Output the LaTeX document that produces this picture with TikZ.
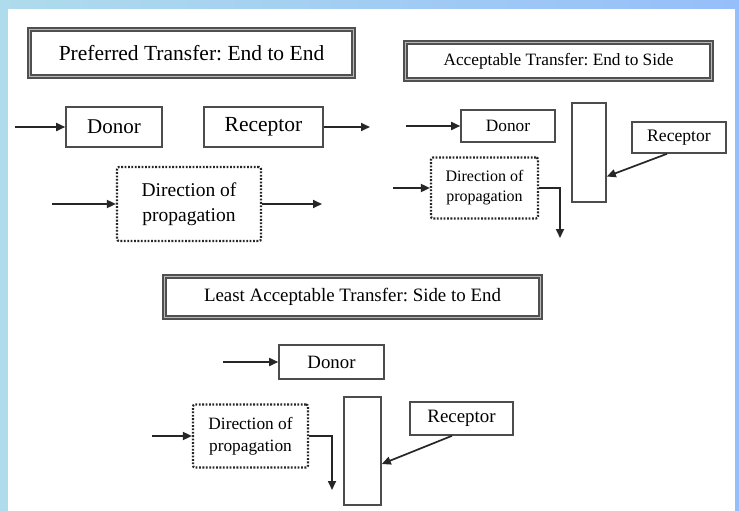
\documentclass[tikz,border=0pt]{standalone}
\usepackage{fontspec}
\setmainfont{Liberation Serif}
\usetikzlibrary{arrows.meta}

\definecolor{frameleft}{RGB}{174,220,236}
\definecolor{frameright}{RGB}{150,190,250}
\definecolor{titlegray}{RGB}{80,80,80}

\tikzset{
  titlebox/.style={draw=titlegray, line width=2pt, double=gray!55, double distance=1.4pt, inner sep=0pt},
  partbox/.style={draw=black!70, line width=1.6pt, inner sep=0pt},
  dirbox/.style={draw=black!85, line width=2.2pt, dash pattern=on 1.8pt off 1.6pt, rounded corners=2pt, inner sep=0pt, align=center},
  flow/.style={-{Triangle[length=9pt,width=8pt]}, line width=1.7pt, black!85}
}

\begin{document}
\frenchspacing
\begin{tikzpicture}[x=1pt,y=-1pt]

    % Frame and page
    \useasboundingbox (0,0) rectangle (739,511);
    \fill[left color=frameleft, right color=frameright] (0,0) rectangle (739,511);
    \fill[white] (8,9) rectangle (735,511);

    % Titles
    \node[titlebox, minimum width=324pt, minimum height=47pt, font=\fontsize{21.5}{26}\selectfont] (title1) at (191.5,53) {Preferred Transfer: End to End};
    \node[titlebox, minimum width=306pt, minimum height=37pt, font=\fontsize{17.3}{21}\selectfont] (title2) at (558.5,61) {Acceptable Transfer: End to Side};
    \node[titlebox, minimum width=376pt, minimum height=41pt, font=\fontsize{18.9}{23}\selectfont] (title3) at (352.5,297) {Least Acceptable Transfer: Side to End};

    % End to End
    \node[partbox, minimum width=96pt, minimum height=40pt, font=\fontsize{21}{25}\selectfont] (donor1) at (114,127) {Donor};
    \node[partbox, minimum width=119pt, minimum height=40pt, font=\fontsize{21.5}{25}\selectfont] (recep1) at (263.5,127) {Receptor};
    \node[dirbox, minimum width=144pt, minimum height=74pt, font=\fontsize{19.5}{25}\selectfont] (dir1) at (189,204) {Direction of\\propagation};
    \coordinate (in1) at (15,127);
    \coordinate (out1) at (370,127);
    \coordinate (dirin1) at (52,204);
    \coordinate (dirout1) at (322,204);
    \draw[flow] (in1) -- (donor1.west);
    \draw[flow] (recep1.east) -- (out1);
    \draw[flow] (dirin1) -- (dir1.west);
    \draw[flow] (dir1.east) -- (dirout1);

    % End to Side
    \node[partbox, minimum width=94pt, minimum height=32pt, font=\fontsize{17.3}{21}\selectfont] (donor2) at (508,126) {Donor};
    \node[partbox, minimum width=34pt, minimum height=99pt] (bar2) at (589,152.5) {};
    \node[partbox, minimum width=94pt, minimum height=31pt, font=\fontsize{17.6}{21}\selectfont] (recep2) at (679,137.5) {Receptor};
    \node[dirbox, minimum width=107pt, minimum height=61pt, font=\fontsize{16}{20}\selectfont] (dir2) at (484.5,188) {Direction of\\propagation};
    \coordinate (in2) at (406,126);
    \coordinate (dirin2) at (393,188);
    \coordinate (drop2) at (560,238);
    \draw[flow] (in2) -- (donor2.west);
    \draw[flow] (dirin2) -- (dir2.west);
    \draw[flow] (dir2.east) -| (drop2);
    \draw[flow] ([xshift=-12pt]recep2.south) -- ([yshift=-24pt]bar2.east);

    % Side to End
    \node[partbox, minimum width=105pt, minimum height=34pt, font=\fontsize{18.8}{22}\selectfont] (donor3) at (331.5,362) {Donor};
    \node[dirbox, minimum width=115pt, minimum height=63pt, font=\fontsize{17.3}{22}\selectfont] (dir3) at (250.5,436) {Direction of\\propagation};
    \node[partbox, minimum width=37pt, minimum height=108pt] (bar3) at (362.5,451) {};
    \node[partbox, minimum width=103pt, minimum height=33pt, font=\fontsize{18.9}{22}\selectfont] (recep3) at (461.5,418.5) {Receptor};
    \coordinate (in3) at (223,362);
    \coordinate (dirin3) at (152,436);
    \coordinate (drop3) at (332,490);
    \draw[flow] (in3) -- (donor3.west);
    \draw[flow] (dirin3) -- (dir3.west);
    \draw[flow] (dir3.east) -| (drop3);
    \draw[flow] ([xshift=-9.5pt]recep3.south) -- ([yshift=-13pt]bar3.east);

\end{tikzpicture}
\end{document}
